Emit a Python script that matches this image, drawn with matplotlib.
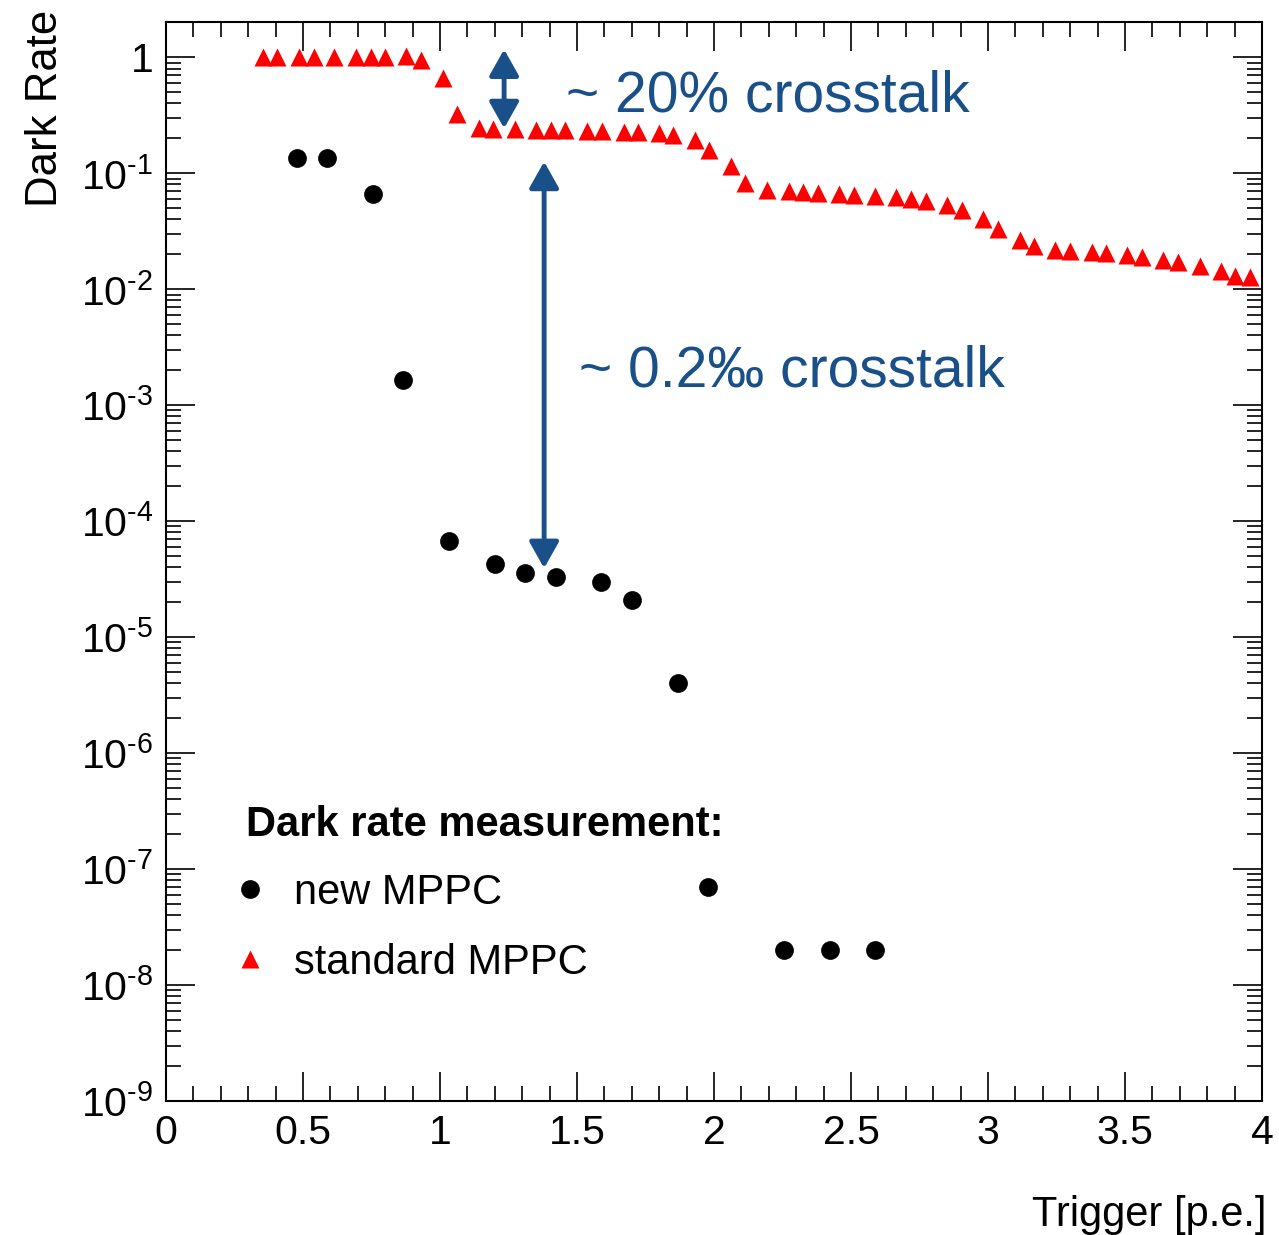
import matplotlib
matplotlib.use('Agg')
import matplotlib.pyplot as plt
from matplotlib.ticker import MultipleLocator, LogLocator, FuncFormatter, NullFormatter
import numpy as np

# ---------------- data ----------------
new_x = [0.479, 0.588, 0.755, 0.866, 1.033, 1.201, 1.311, 1.422, 1.589, 1.700,
         1.867, 1.977, 2.257, 2.422, 2.589]
new_y = [0.135, 0.135, 0.066, 1.65e-3, 6.8e-5, 4.28e-5, 3.6e-5, 3.29e-5, 2.98e-5, 2.07e-5,
         4.06e-6, 7.0e-8, 1.99e-8, 1.99e-8, 1.99e-8]

std_x = [0.354, 0.404, 0.484, 0.539, 0.614, 0.692, 0.747, 0.799, 0.875, 0.930,
         1.010, 1.063, 1.141, 1.193, 1.275, 1.349, 1.405, 1.458, 1.536, 1.590,
         1.670, 1.721, 1.800, 1.851, 1.931, 1.983, 2.061, 2.113, 2.194, 2.274,
         2.325, 2.380, 2.456, 2.510, 2.588, 2.666, 2.718, 2.773, 2.851, 2.904,
         2.982, 3.035, 3.115, 3.167, 3.245, 3.299, 3.378, 3.430, 3.509, 3.562,
         3.640, 3.692, 3.772, 3.850, 3.903, 3.956]
std_y = [1.0, 1.0, 1.0, 1.0, 1.0, 1.0, 1.0, 1.0, 1.02, 0.95,
         0.66, 0.324, 0.247, 0.242, 0.239, 0.236, 0.236, 0.236, 0.232, 0.232,
         0.226, 0.226, 0.222, 0.212, 0.193, 0.159, 0.115, 0.0825, 0.0713, 0.070,
         0.069, 0.0676, 0.0667, 0.0654, 0.0633, 0.0625, 0.060, 0.0574, 0.0528, 0.0478,
         0.0406, 0.033, 0.0268, 0.0235, 0.0217, 0.0214, 0.021, 0.0207, 0.0196, 0.019,
         0.018, 0.017, 0.0158, 0.0145, 0.0129, 0.0127]

series_labels = ['new MPPC', 'standard MPPC']
legend_title = 'Dark rate measurement:'
x_label = 'Trigger [p.e.]'
y_label = 'Dark Rate'

# annotation arrows: (x, y_top, y_bottom)
arrow1 = (1.234, 1.17, 0.244)
arrow2 = (1.380, 0.126, 3.93e-5)
text1 = '~ 20% crosstalk'
text2 = '~ 0.2\u2030 crosstalk'

# ---------------- style ----------------
plt.rcParams['font.family'] = ['Liberation Sans', 'DejaVu Sans']
plt.rcParams['mathtext.fontset'] = 'custom'
plt.rcParams['mathtext.rm'] = 'Liberation Sans'
plt.rcParams['mathtext.it'] = 'Liberation Sans:italic'
plt.rcParams['mathtext.bf'] = 'Liberation Sans:bold'
plt.rcParams['axes.unicode_minus'] = False

BLUE = '#1a508a'
W, H = 1279, 1235
fig = plt.figure(figsize=(W / 100, H / 100), dpi=100)
ax = fig.add_axes([166 / W, 134 / H, 1096 / W, 1079 / H])

ax.plot(new_x, new_y, ls='none', marker='o', ms=13.5, color='black', mec='none',
        label=series_labels[0])
ax.plot(std_x, std_y, ls='none', marker='^', ms=12.5, color='red', mec='none',
        label=series_labels[1])

ax.set_yscale('log')
ax.set_xlim(0, 4)
ax.set_ylim(1e-9, 2.015)

ax.xaxis.set_major_locator(MultipleLocator(0.5))
ax.xaxis.set_minor_locator(MultipleLocator(0.1))
ax.xaxis.set_major_formatter(FuncFormatter(lambda v, p: ('%g' % v)))
ax.yaxis.set_major_locator(LogLocator(base=10, numticks=30))
ax.yaxis.set_minor_locator(LogLocator(base=10, subs=np.arange(2, 10), numticks=30))
ax.yaxis.set_minor_formatter(NullFormatter())


def yfmt(v, p):
    e = int(round(np.log10(v)))
    if e == 0:
        return '1'
    return r'$10^{\text{-%d}}$' % (-e)


ax.yaxis.set_major_formatter(FuncFormatter(yfmt))

ax.tick_params(which='both', direction='in', top=True, right=True, width=1.2,
               labelsize=29.5, colors='black')
ax.tick_params(which='major', length=21)
ax.tick_params(which='minor', length=10.5)
ax.tick_params(axis='x', which='major', pad=9)
ax.tick_params(axis='y', which='major', pad=9)
for s in ax.spines.values():
    s.set_linewidth(1.5)

# axis titles (ROOT style: at the axis ends)
fig.text(46 / W, 1 - 10 / H, y_label, rotation=90, ha='center', va='top', fontsize=31.5)
fig.text(1266 / W, 1 - 1226 / H, x_label, ha='right', va='baseline', fontsize=30)

# arrows
for (xa, yt, yb) in (arrow1, arrow2):
    ax.annotate('', xy=(xa, yt), xytext=(xa, yb),
                arrowprops=dict(arrowstyle='<|-|>,head_length=0.8,head_width=0.45',
                                mutation_scale=20, lw=3.5, color=BLUE,
                                shrinkA=0, shrinkB=0))

ax.text((566 - 166) / 1096, (1101 - 111) / 1079, text1, transform=ax.transAxes,
        ha='left', va='baseline', fontsize=41, color=BLUE)
ax.text((579 - 166) / 1096, (1101 - 387) / 1079, text2, transform=ax.transAxes,
        ha='left', va='baseline', fontsize=41, color=BLUE)

leg = ax.legend(loc='upper left', bbox_to_anchor=((246 - 166) / 1096, (1101 - 805) / 1079),
                frameon=False, title=legend_title,
                title_fontproperties={'weight': 'bold', 'size': 30},
                fontsize=30, handlelength=0.2, handletextpad=0.95, labelspacing=0.72,
                borderpad=0, borderaxespad=0, alignment='left', markerscale=1.0)
leg._legend_box.sep = 20

fig.savefig('out.png', dpi=100)
